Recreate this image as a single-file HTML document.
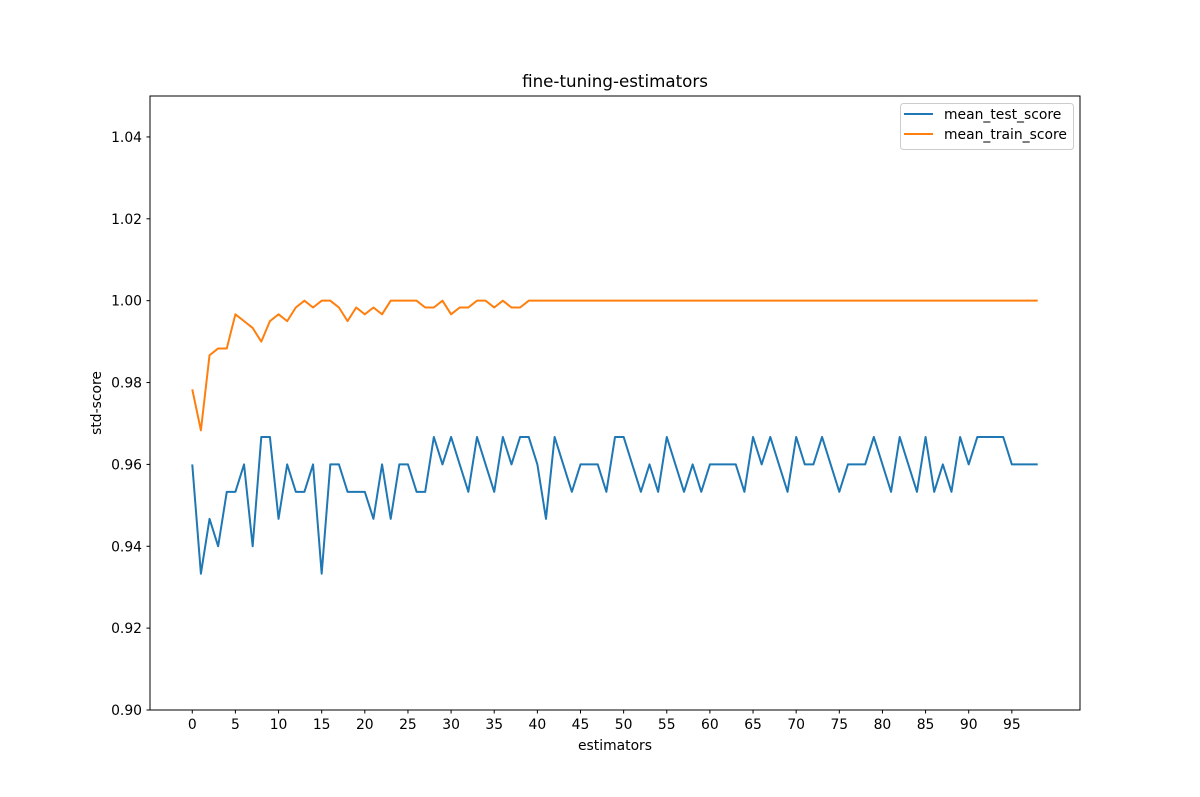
<!DOCTYPE html>
<html><head><meta charset="utf-8"><style>
body{margin:0;background:#fff}
svg{display:block;font-family:"DejaVu Sans","Liberation Sans",sans-serif}
</style></head><body>
<svg id="chart" width="1200" height="797" viewBox="0 0 1200 797">
<rect width="1200" height="797" fill="#fff"/>
<text x="615" y="87" font-size="16.7" text-anchor="middle">fine-tuning-estimators</text>
<g id="xticks"></g>
<g id="yticks"></g>
<g id="series"></g>
<rect x="150" y="96" width="930" height="614" fill="none" stroke="#000" stroke-width="1"/>
<text x="615" y="750" font-size="13.9" text-anchor="middle">estimators</text>
<text x="101" y="403" font-size="13.9" text-anchor="middle" transform="rotate(-90 101 403)">std-score</text>
<g>
<rect x="900.5" y="103.5" width="173" height="46" rx="3" fill="#fff" fill-opacity="0.8" stroke="#ccc"/>
<line x1="904" y1="114" x2="933" y2="114" stroke="#1f77b4" stroke-width="2"/>
<text x="944" y="119" font-size="13.9">mean_test_score</text>
<line x1="904" y1="134" x2="933" y2="134" stroke="#ff7f0e" stroke-width="2"/>
<text x="944" y="139" font-size="13.9">mean_train_score</text>
</g>
</svg>
<script>
const testScores=[0.96,0.9333,0.9467,0.94,0.9533,0.9533,0.96,0.94,0.9667,0.9667,0.9467,0.96,0.9533,0.9533,0.96,0.9333,0.96,0.96,0.9533,0.9533,0.9533,0.9467,0.96,0.9467,0.96,0.96,0.9533,0.9533,0.9667,0.96,0.9667,0.96,0.9533,0.9667,0.96,0.9533,0.9667,0.96,0.9667,0.9667,0.96,0.9467,0.9667,0.96,0.9533,0.96,0.96,0.96,0.9533,0.9667,0.9667,0.96,0.9533,0.96,0.9533,0.9667,0.96,0.9533,0.96,0.9533,0.96,0.96,0.96,0.96,0.9533,0.9667,0.96,0.9667,0.96,0.9533,0.9667,0.96,0.96,0.9667,0.96,0.9533,0.96,0.96,0.96,0.9667,0.96,0.9533,0.9667,0.96,0.9533,0.9667,0.9533,0.96,0.9533,0.9667,0.96,0.9667,0.9667,0.9667,0.9667,0.96,0.96,0.96,0.96];
const trainScores=[0.97833,0.96833,0.98667,0.98833,0.98833,0.99667,0.995,0.99333,0.99,0.995,0.99667,0.995,0.99833,1,0.99833,1,1,0.99833,0.995,0.99833,0.99667,0.99833,0.99667,1,1,1,1,0.99833,0.99833,1,0.99667,0.99833,0.99833,1,1,0.99833,1,0.99833,0.99833,1,1,1,1,1,1,1,1,1,1,1,1,1,1,1,1,1,1,1,1,1,1,1,1,1,1,1,1,1,1,1,1,1,1,1,1,1,1,1,1,1,1,1,1,1,1,1,1,1,1,1,1,1,1,1,1,1,1,1,1];
const xTickLabels=[0,5,10,15,20,25,30,35,40,45,50,55,60,65,70,75,80,85,90,95];
const yTickLabels=["0.90","0.92","0.94","0.96","0.98","1.00","1.02","1.04"];
const NS="http://www.w3.org/2000/svg";
const n=testScores.length, margin=(n-1)*0.05;
const xmin=-margin, xmax=(n-1)+margin;
function xs(v){return 150+(v-xmin)/(xmax-xmin)*930;}
function ys(v){return 710-(v-0.90)/(0.15)*614;}
function mk(tag,attrs,parent){const e=document.createElementNS(NS,tag);for(const k in attrs)e.setAttribute(k,attrs[k]);parent.appendChild(e);return e;}
const xg=document.getElementById('xticks'),yg=document.getElementById('yticks'),sg=document.getElementById('series');
xTickLabels.forEach(t=>{const x=xs(t);
 const l=mk('line',{x1:x,y1:710,x2:x,y2:713.5,stroke:'#000','stroke-width':1},xg);
 
 
 const tx=mk('text',{x:x,y:729,'font-size':13.9,'text-anchor':'middle'},xg);tx.textContent=t;
 
 });
yTickLabels.forEach(t=>{const y=ys(parseFloat(t));
 const l=mk('line',{x1:146.5,y1:y,x2:150,y2:y,stroke:'#000','stroke-width':1},yg);
 
 
 const tx=mk('text',{x:142,y:y+5,'font-size':13.9,'text-anchor':'end'},yg);tx.textContent=t;
 
 });
function line(data,color,name){const pts=data.map((v,i)=>xs(i).toFixed(2)+','+ys(v).toFixed(2)).join(' ');
 const p=mk('polyline',{points:pts,fill:'none',stroke:color,'stroke-width':2,'stroke-linejoin':'round'},sg);
 
 }
line(testScores,'#1f77b4','mean-test-score-line');
line(trainScores,'#ff7f0e','mean-train-score-line');
</script>
</body></html>
